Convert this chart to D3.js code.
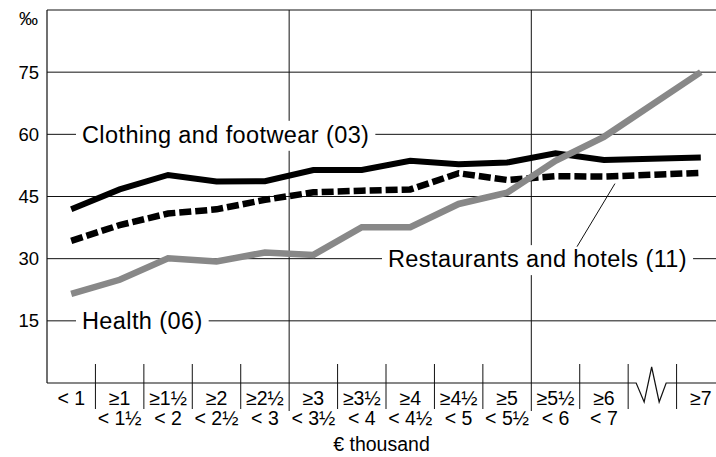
<!DOCTYPE html>
<html>
<head>
<meta charset="utf-8">
<script src="https://cdn.jsdelivr.net/npm/d3@7"></script>
<style>
  body { margin: 0; background: #fff; }
  svg { display: block; font-family: "Liberation Sans", Arial, Helvetica, sans-serif; }
</style>
</head>
<body>
<svg id="chart" width="716" height="457"></svg>
<script>
// income bands (€ thousand), one column each; "break" is the axis gap before ≥7
const bands = ["lt1", "1", "1.5", "2", "2.5", "3", "3.5", "4", "4.5", "5", "5.5", "6", "break", "7"];
const topLabels = ["< 1", "≥1", "≥1½", "≥2", "≥2½", "≥3", "≥3½", "≥4", "≥4½", "≥5", "≥5½", "≥6", "", "≥7"];
const bottomLabels = ["", "< 1½", "< 2", "< 2½", "< 3", "< 3½", "< 4", "< 4½", "< 5", "< 5½", "< 6", "< 7", "", ""];
const pointBands = bands.filter(b => b !== "break");

// shares in ‰
const clothing = [41.9, 46.7, 50.2, 48.6, 48.7, 51.4, 51.4, 53.6, 52.8, 53.2, 55.4, 53.8, 54.4];
const restaurants = [34.3, 38.1, 40.9, 41.9, 44.2, 46.0, 46.4, 46.7, 50.6, 49.0, 49.9, 49.8, 50.7];
const health = [21.5, 24.9, 30.1, 29.3, 31.5, 30.9, 37.6, 37.6, 43.2, 45.9, 53.6, 59.4, 75.0];

const yTicks = [15, 30, 45, 60, 75];
const fullGridBands = ["3", "5.5"];

const width = 716;
const left = 47;
const colWidth = 48.43;

const svg = d3.select("#chart");

const x = d3.scaleBand()
    .domain(bands)
    .range([left, left + bands.length * colWidth]);

const y = d3.scaleLinear()
    .domain([0, 90])
    .range([383, 10]);

const cx = b => x(b) + x.bandwidth() / 2;
const ink = "#111";

// horizontal grid + top border
svg.append("g")
    .selectAll("line")
    .data(yTicks.concat([90]))
    .join("line")
    .attr("x1", left).attr("x2", width)
    .attr("y1", d => y(d)).attr("y2", d => y(d))
    .attr("stroke", ink).attr("stroke-width", 1);

// left axis
svg.append("line")
    .attr("x1", left).attr("x2", left)
    .attr("y1", y(90)).attr("y2", y(0))
    .attr("stroke", ink).attr("stroke-width", 1.2);

// full-height verticals
svg.append("g")
    .selectAll("line")
    .data(fullGridBands)
    .join("line")
    .attr("x1", d => x(d)).attr("x2", d => x(d))
    .attr("y1", y(90)).attr("y2", 411)
    .attr("stroke", ink).attr("stroke-width", 1);

// column separators on the x axis
svg.append("g")
    .selectAll("line")
    .data(bands.slice(1).filter(b => fullGridBands.indexOf(b) < 0))
    .join("line")
    .attr("x1", d => x(d)).attr("x2", d => x(d))
    .attr("y1", 364).attr("y2", 409)
    .attr("stroke", ink).attr("stroke-width", 1);

// x axis with zigzag break
const bx = x("break");
const y0 = y(0);
svg.append("path")
    .attr("d", d3.line()([
        [left, y0], [bx + 8, y0], [bx + 16, y0 + 19], [bx + 23.5, y0 - 16],
        [bx + 31, y0 + 19], [bx + 38, y0], [width, y0]
    ]))
    .attr("fill", "none")
    .attr("stroke", ink).attr("stroke-width", 1.2);

// y tick labels
svg.append("g")
    .selectAll("text")
    .data(yTicks)
    .join("text")
    .attr("x", 39)
    .attr("y", d => y(d))
    .attr("dy", "0.35em")
    .attr("text-anchor", "end")
    .attr("font-size", 18.5)
    .text(d => d);

svg.append("text")
    .attr("x", 38).attr("y", 25)
    .attr("text-anchor", "end")
    .attr("font-size", 19)
    .text("‰");

// x labels, two rows
svg.append("g")
    .selectAll("text")
    .data(bands)
    .join("text")
    .attr("x", d => cx(d))
    .attr("y", 405)
    .attr("text-anchor", "middle")
    .attr("font-size", 19.5)
    .text((d, i) => topLabels[i]);

svg.append("g")
    .selectAll("text")
    .data(bands)
    .join("text")
    .attr("x", d => cx(d))
    .attr("y", 425)
    .attr("text-anchor", "middle")
    .attr("font-size", 19.5)
    .text((d, i) => bottomLabels[i]);

svg.append("text")
    .attr("x", (left + width) / 2)
    .attr("y", 451)
    .attr("text-anchor", "middle")
    .attr("font-size", 19.5)
    .text("€ thousand");

// series labels sitting on grid lines, white box breaks the grid
const labels = [
    {text: "Clothing and footwear (03)", x: 82, v: 60},
    {text: "Health (06)", x: 82, v: 15},
    {text: "Restaurants and hotels (11)", x: 388, v: 30}
];
const labelG = svg.append("g");
labels.forEach(l => {
    const g = labelG.append("g");
    const rect = g.append("rect").attr("fill", "#fff");
    const t = g.append("text")
        .attr("x", l.x)
        .attr("y", y(l.v))
        .attr("dy", "0.36em")
        .attr("font-size", 23.5)
        .attr("letter-spacing", 0.4)
        .text(l.text);
    const bb = t.node().getBBox();
    rect.attr("x", bb.x - 6).attr("y", bb.y - 1)
        .attr("width", bb.width + 12).attr("height", bb.height + 4);
});

// leader line to the restaurants series
svg.append("line")
    .attr("x1", cx("6") + 11).attr("y1", y(49.8) + 7)
    .attr("x2", 577).attr("y2", y(30) - 12)
    .attr("stroke", ink).attr("stroke-width", 1);

// series
const line = d3.line()
    .x((d, i) => cx(pointBands[i]))
    .y(d => y(d));

svg.append("path")
    .datum(clothing)
    .attr("d", line)
    .attr("fill", "none")
    .attr("stroke", "#000")
    .attr("stroke-width", 6);

svg.append("path")
    .datum(restaurants)
    .attr("d", line)
    .attr("fill", "none")
    .attr("stroke", "#000")
    .attr("stroke-width", 6.5)
    .attr("stroke-dasharray", "12,4");

svg.append("path")
    .datum(health)
    .attr("d", line)
    .attr("fill", "none")
    .attr("stroke", "#888")
    .attr("stroke-width", 6.5);
</script>
</body>
</html>
